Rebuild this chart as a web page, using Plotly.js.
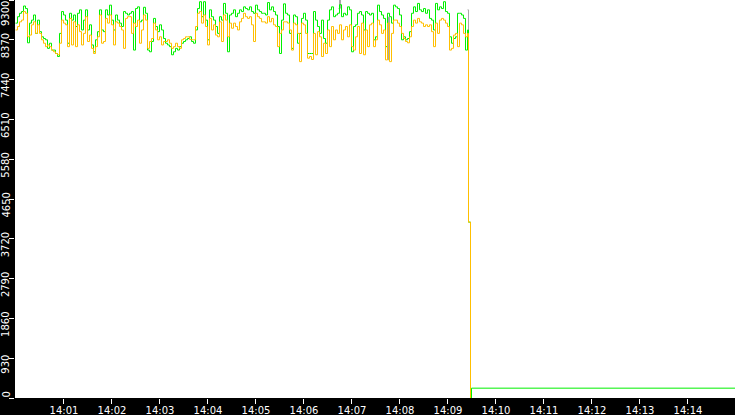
<!DOCTYPE html>
<html>
<head>
<meta charset="utf-8">
<script src="https://cdn.plot.ly/plotly-3.0.1.min.js"></script>
<style>
  html, body { margin: 0; padding: 0; background: #000; }
  #chart { width: 735px; height: 415px; }
</style>
</head>
<body>
<div id="chart"></div>
<script>
// ---- data ----
const dayStart = Date.UTC(2024, 0, 1, 14, 0, 0); // 14:00:00
const firstSampleSec = 0.625;
const sampleStepSec = 2.5;

const greenValues = [
  8760,8910,8990,9030,9160,9100,8300,8760,8830,8950,8520,8830,8560,8440,8400,8370,8170,8290,8130,8130,
  8050,7980,8520,9030,8950,8830,8290,8990,8830,8950,8680,8990,9070,8600,8830,9070,8600,8720,8250,8090,
  8370,8560,9070,8600,8560,9070,8950,9180,8830,8600,8950,8830,8760,8680,9030,8990,8950,
  8990,9030,8130,9100,9140,8790,8830,9130,8990,8130,8090,8330,8870,8680,8560,8720,8600,8400,8290,8250,
  8210,8020,8090,8170,8130,8210,8290,8330,8370,8400,8440,8330,8290,8600,9100,9260,8910,9260,8830,8370,
  9070,8910,8830,8680,8520,8910,8830,9220,8990,8090,8950,8990,9070,8910,8990,9070,9030,
  9140,9100,9070,9140,9030,8990,9180,9070,9030,8990,8990,8950,9240,9070,9140,9030,8950,8680,8050,8830,
  9210,8990,8950,8520,8170,8950,8910,8290,8520,8870,8990,8830,8050,8050,8050,9030,8830,8680,8520,8830,
  8400,8290,8830,9070,9140,8910,8950,8990,9190,8910,8990,8950,9140,9070,8090,8680,8720,
  8990,9030,8950,8600,9030,8990,8950,8990,8370,8440,9180,9030,8950,8870,8210,8990,8910,8760,9180,9140,
  9100,8950,8370,8440,8370,8400,8560,8990,9140,9030,9220,9070,9030,9100,8990,9070,8870,8830,8600,9220,
  9070,9140,9100,9260,9030,8990,8440,8290,8400,8440,8990,8990,8950,8870,8130,8600
];

const orangeValues = [
  8600,8680,8790,8830,9030,8990,8440,8480,8720,8790,8520,8720,8520,8370,8290,8210,8250,8210,8130,8090,
  8050,8020,8290,8830,8760,8720,8210,8870,8250,8790,8210,8720,8560,8250,8520,8910,8330,8480,8170,8050,
  8210,8440,8950,8290,8330,8870,8760,8950,8720,8250,8790,8760,8680,8600,8170,8870,8910,
  8910,8520,8760,8680,8830,8290,8600,8950,8830,8170,8330,8400,8760,8600,8370,8440,8250,8330,8330,8370,
  8290,8170,8210,8290,8210,8170,8370,8400,8440,8440,8380,8370,8370,8680,8990,9030,8760,8950,8680,8250,
  8870,8600,8720,8480,8440,8790,8330,8950,8830,8440,8760,8640,8760,8680,8600,8790,8870,
  8990,8910,8870,8910,8720,8330,8990,8910,8870,8790,8790,8760,8910,8790,8870,8720,8680,8210,8520,8600,
  8790,8790,8760,8600,8130,8760,8720,8520,7860,8760,8720,8520,7940,7980,7910,8520,8020,8560,8440,7980,
  8290,8050,8600,8210,8680,8370,8600,8520,8720,8370,8600,8680,8440,8720,8210,8130,8440,
  8680,8050,8760,8020,8600,8210,8720,8760,8210,8370,8830,8720,8520,8600,7900,8760,7860,8520,8830,8830,
  8760,8680,8520,8400,8330,8300,8440,8680,8830,8760,8870,8790,8760,8680,8720,8680,8720,8560,8210,8760,
  8520,8830,8870,8830,8760,8680,8130,8170,8480,8520,8210,8760,8720,8520,8440,8520
];

// after the drop (seconds after 14:00:00)
const greenTailSec = [566.875, 569.375, 570.625, 900];
const greenTailValues = [4110, 0, 230, 230];
const orangeTailSec = [566.875, 569.375];
const orangeTailValues = [4110, 0];

// grey series (only visible where it differs)
const greySec    = [404.375, 405.625, 406.875, 407.5, 465.625, 466.875, 468.125, 468.5, 565.625, 566.875];
const greyValues = [9100, 9300, 9100, null, 8900, 7900, 8900, null, 9070, 4110];

const yTickValues = [0, 930, 1860, 2790, 3720, 4650, 5580, 6510, 7440, 8370, 9300];
const xTickLabels = ['14:01','14:02','14:03','14:04','14:05','14:06','14:07','14:08','14:09','14:10','14:11','14:12','14:13','14:14'];

// ---- build ----
const toMs = s => dayStart + s * 1000;
const mainX = greenValues.map((_, i) => toMs(firstSampleSec + i * sampleStepSec));

const greenX = mainX.concat(greenTailSec.map(toMs));
const greenY = greenValues.concat(greenTailValues);
const orangeX = mainX.concat(orangeTailSec.map(toMs));
const orangeY = orangeValues.concat(orangeTailValues);

const xTickVals = xTickLabels.map((_, i) => toMs((i + 1) * 60));

const traces = [
  { x: greySec.map(toMs), y: greyValues, type: 'scatter', mode: 'lines',
    line: { color: '#a8a8a8', width: 1, shape: 'hv' }, hoverinfo: 'skip' },
  { x: greenX, y: greenY, type: 'scatter', mode: 'lines',
    line: { color: '#00f000', width: 1, shape: 'hv' }, hoverinfo: 'skip' },
  { x: orangeX, y: orangeY, type: 'scatter', mode: 'lines',
    line: { color: '#ffbf00', width: 1, shape: 'hv' }, hoverinfo: 'skip' }
];

const yMax = yTickValues[yTickValues.length - 1];
const annotations = yTickValues.map(v => {
  const a = {
    text: String(v), xref: 'paper', x: 0, xanchor: 'center', xshift: -9.5,
    yref: 'y', y: v, textangle: -90, showarrow: false, borderpad: 0,
    font: { family: 'DejaVu Sans', size: 10, color: '#ffffff' }
  };
  if (v === yMax) { a.yanchor = 'top'; a.yshift = 0; }
  else if (v === 0) { a.yanchor = 'bottom'; a.yshift = -1; }
  else { a.yanchor = 'middle'; a.yshift = -6; }
  return a;
});

const layout = {
  width: 735, height: 415,
  margin: { l: 15, r: 0, t: 0, b: 17, pad: 0 },
  paper_bgcolor: '#000000',
  plot_bgcolor: '#ffffff',
  showlegend: false,
  xaxis: {
    type: 'date',
    range: [toMs(0), toMs(900)],
    tickmode: 'array', tickvals: xTickVals, ticktext: xTickLabels,
    ticks: 'outside', ticklen: 5, tickwidth: 1, tickcolor: '#ffffff',
    ticklabelshift: 1, ticklabelstandoff: -2,
    tickfont: { family: 'DejaVu Sans', size: 10, color: '#ffffff' },
    showgrid: false, zeroline: false, showline: false, fixedrange: true
  },
  yaxis: {
    range: [0, yMax],
    tickmode: 'array', tickvals: yTickValues,
    ticks: 'outside', ticklen: 5, tickwidth: 1, tickcolor: '#ffffff',
    showticklabels: false,
    showgrid: false, zeroline: false, showline: false, fixedrange: true
  },
  annotations: annotations
};

Plotly.newPlot('chart', traces, layout, { staticPlot: true, displayModeBar: false });
</script>
</body>
</html>
